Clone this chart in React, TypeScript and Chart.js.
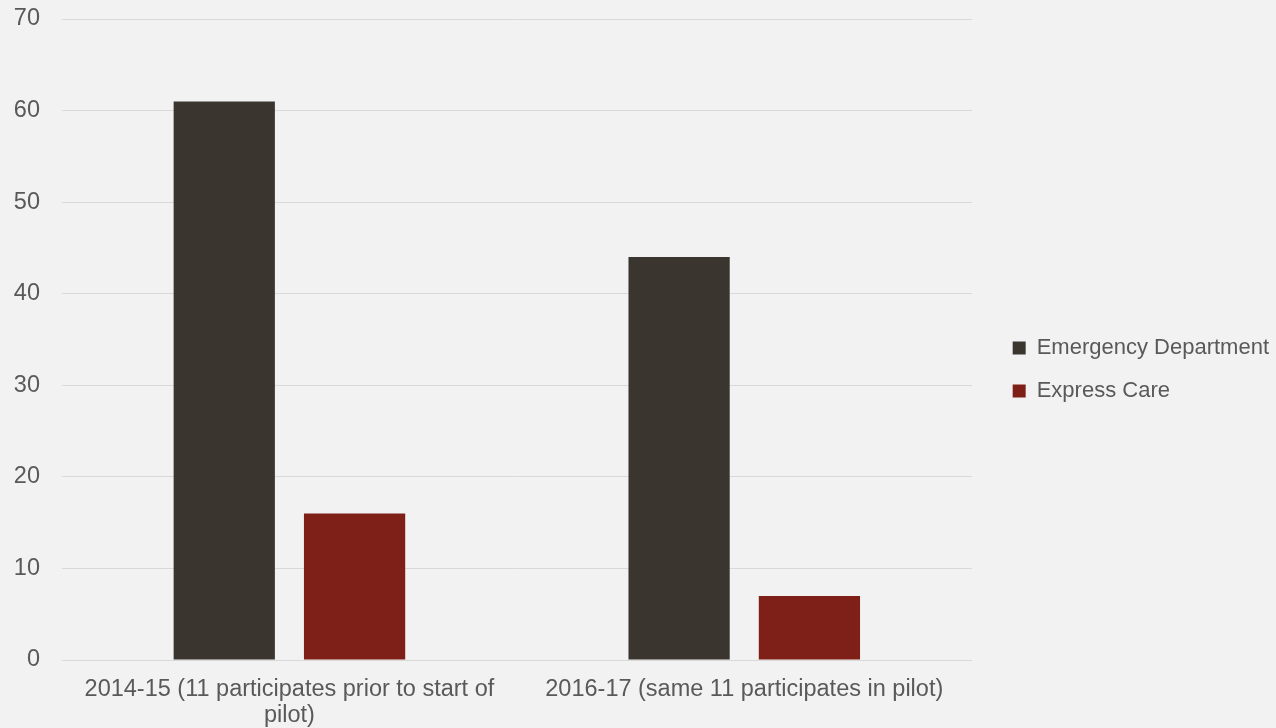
import React, { useEffect, useRef } from "react";
import { Chart, registerables } from "chart.js";

Chart.register(...registerables);

const categories: (string | string[])[] = [
  ["2014-15 (11 participates prior to start of", "pilot)"],
  "2016-17 (same 11 participates in pilot)",
];
const emergencyDepartment = [61, 44];
const expressCare = [16, 7];
const seriesNames = ["Emergency Department", "Express Care"];
const yTicks = [0, 10, 20, 30, 40, 50, 60, 70];

const FONT = "'Liberation Sans', Arial, sans-serif";
const TEXT = "#595959";
const GRID = "#d9d9d9";

export default function App() {
  const ref = useRef<HTMLCanvasElement | null>(null);
  useEffect(() => {
    document.body.style.margin = "0";
    const chart = new Chart(ref.current!, {
      type: "bar",
      data: {
        labels: categories,
        datasets: [
          {
            label: seriesNames[0],
            data: emergencyDepartment,
            backgroundColor: "#3b352f",
            borderWidth: 0,
          },
          {
            label: seriesNames[1],
            data: expressCare,
            backgroundColor: "#7f2018",
            borderWidth: 0,
          },
        ],
      },
      options: {
        animation: false,
        responsive: true,
        maintainAspectRatio: false,
        layout: { padding: { top: 11, left: 0, right: -3, bottom: 0 } },
        datasets: {
          bar: { categoryPercentage: 0.573, barPercentage: 0.777 },
        },
        plugins: {
          tooltip: { enabled: false },
          legend: {
            position: "right",
            maxWidth: 400,
            labels: {
              boxWidth: 13,
              boxHeight: 13,
              padding: 21,
              color: TEXT,
              font: { family: FONT, size: 22 },
            },
          },
        },
        scales: {
          x: {
            grid: { display: false, drawTicks: false },
            border: { display: true, color: GRID, width: 1 },
            ticks: {
              color: TEXT,
              padding: 17,
              maxRotation: 0,
              autoSkip: false,
              font: { family: FONT, size: 23.5, lineHeight: 1.1 },
            },
            afterFit: (s: any) => {
              s.height = 68;
            },
          },
          y: {
            min: 0,
            max: 70,
            afterBuildTicks: (s: any) => {
              s.ticks = yTicks.map((v) => ({ value: v }));
            },
            grid: { color: GRID, lineWidth: 1, drawTicks: false },
            border: { display: false },
            ticks: {
              color: TEXT,
              padding: 22,
              font: { family: FONT, size: 23.5 },
            },
            afterFit: (s: any) => {
              s.width = 62;
              s.paddingTop = 19;
              s.paddingBottom = 0;
            },
          },
          spacer: {
            type: "linear",
            position: "right",
            display: true,
            grid: { display: false, drawTicks: false },
            border: { display: false },
            ticks: { display: false },
            afterFit: (s: any) => {
              s.width = 20;
            },
          },
        },
      } as any,
    });
    return () => chart.destroy();
  }, []);
  return (
    <div
      style={{
        position: "absolute",
        left: 0,
        top: 0,
        width: 1276,
        height: 728,
        background: "#f2f2f2",
      }}
    >
      <canvas ref={ref} />
    </div>
  );
}
